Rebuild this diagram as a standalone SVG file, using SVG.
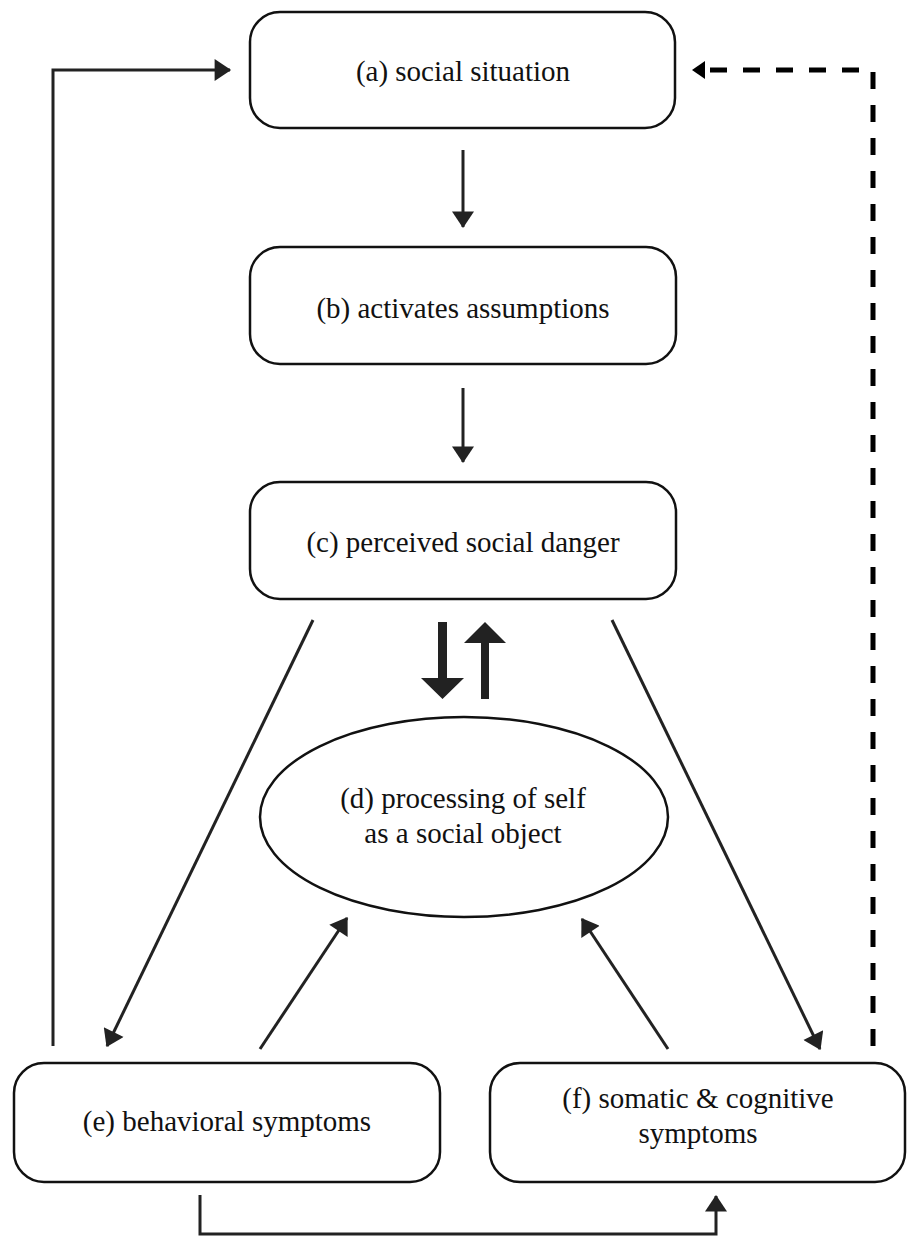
<svg xmlns="http://www.w3.org/2000/svg" width="907" height="1237" viewBox="0 0 907 1237">
<defs>
<style>
.box{fill:#fff;stroke:#111;stroke-width:2.5}
.t{font-family:'Liberation Serif',Tinos,'Times New Roman',Times,'Nimbus Roman','Nimbus Roman No9 L','Noto Serif','DejaVu Serif',FreeSerif,serif;font-size:29px;fill:#111;text-anchor:middle}
.ln{fill:none;stroke:#222;stroke-width:3}
.dash{fill:none;stroke:#000;stroke-width:5;stroke-dasharray:17 16}
.big{fill:#222}
</style>
<marker id="ah" markerUnits="userSpaceOnUse" markerWidth="22" markerHeight="22" viewBox="0 0 15 20" refX="14" refY="10" orient="auto">
<path d="M0,0 L15,10 L0,20 Z" fill="#222"/>
</marker>
</defs>
<rect width="907" height="1237" fill="#fff"/>
<g id="connectors">
<line class="ln" x1="463" y1="150" x2="463" y2="227" marker-end="url(#ah)"/>
<line class="ln" x1="463" y1="388" x2="463" y2="462" marker-end="url(#ah)"/>
<line class="ln" x1="313" y1="620" x2="107" y2="1046" marker-end="url(#ah)"/>
<line class="ln" x1="612" y1="620" x2="820" y2="1049" marker-end="url(#ah)"/>
<line class="ln" x1="260" y1="1049" x2="347" y2="918" marker-end="url(#ah)"/>
<line class="ln" x1="668" y1="1049" x2="582" y2="919" marker-end="url(#ah)"/>
<polyline class="ln" points="53,1046 53,70 230,70" marker-end="url(#ah)"/>
<polyline class="dash" points="873,1046 873,70 700,70"/>
<path d="M692,70 L705,61 L705,79 Z" fill="#000"/>
<polyline class="ln" points="200,1195 200,1234 716,1234 716,1196" marker-end="url(#ah)"/>
<path class="big" d="M438,622 H447 V678 H464 L442.5,699 L421,678 H438 Z"/>
<path class="big" d="M481,699 H489 V643 H506 L485,622 L464,643 H481 Z"/>
</g>
<g id="node-a">
<rect class="box" x="250" y="12" width="425" height="116" rx="30"/>
<text class="t" x="463" y="81">(a) social situation</text>
</g>
<g id="node-b">
<rect class="box" x="250" y="247" width="426" height="117" rx="30"/>
<text class="t" x="463" y="318">(b) activates assumptions</text>
</g>
<g id="node-c">
<rect class="box" x="250" y="482" width="426" height="117" rx="30"/>
<text class="t" x="463" y="552">(c) perceived social danger</text>
</g>
<g id="node-d">
<ellipse class="box" cx="464" cy="817" rx="204" ry="100"/>
<text class="t" x="463" y="808">(d) processing of self</text>
<text class="t" x="463" y="843">as a social object</text>
</g>
<g id="node-e">
<rect class="box" x="14" y="1063" width="426" height="119" rx="30"/>
<text class="t" x="227" y="1131">(e) behavioral symptoms</text>
</g>
<g id="node-f">
<rect class="box" x="490" y="1063" width="415" height="119" rx="30"/>
<text class="t" x="698" y="1108">(f) somatic &amp; cognitive</text>
<text class="t" x="698" y="1143">symptoms</text>
</g>
</svg>
